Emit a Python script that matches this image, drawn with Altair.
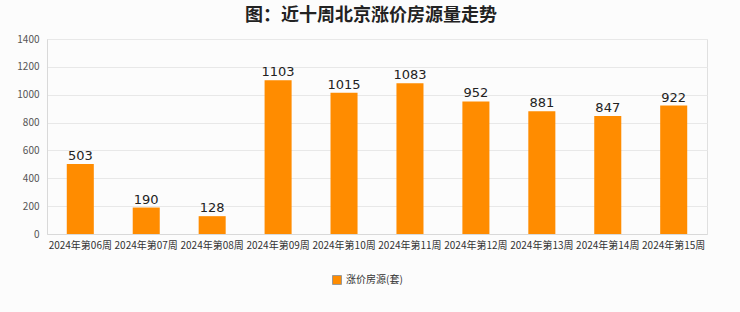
import altair as alt
import pandas as pd

weeks = ["2024年第06周", "2024年第07周", "2024年第08周", "2024年第09周", "2024年第10周",
         "2024年第11周", "2024年第12周", "2024年第13周", "2024年第14周", "2024年第15周"]
values = [503, 190, 128, 1103, 1015, 1083, 952, 881, 847, 922]
series = "涨价房源(套)"
y_ticks = [0, 200, 400, 600, 800, 1000, 1200, 1400]

df = pd.DataFrame({"week": weeks, "value": values, "series": [series] * len(weeks)})

FONT = "Noto Sans CJK SC"

base = alt.Chart(df).encode(
    x=alt.X("week:N", sort=weeks, title=None,
            scale=alt.Scale(paddingInner=0.59, paddingOuter=0.3),
            axis=alt.Axis(labelAngle=0, labelFontSize=10, labelColor="#333333",
                          labelFont=FONT, domainColor="#d9d9d9", ticks=False,
                          labelPadding=6, labelOverlap=False)),
    y=alt.Y("value:Q", title=None,
            scale=alt.Scale(domain=[0, 1400], nice=False),
            axis=alt.Axis(values=y_ticks, tickCount=8,
                          format="d", labelOverlap=False,
                          labelFontSize=10, labelColor="#555555", labelFont=FONT,
                          gridColor="#e8e8e8", domainColor="#d9d9d9", ticks=False,
                          labelPadding=8)),
)

bars = base.mark_bar(color="#FF8C00").encode(
    color=alt.Color("series:N", scale=alt.Scale(range=["#FF8C00"]),
                    legend=alt.Legend(title=None, orient="none", legendX=285, legendY=236,
                                      symbolType="square",
                                      symbolSize=80, labelFontSize=10, labelFont=FONT,
                                      labelColor="#333333",
                                      symbolStrokeColor="#999999", symbolStrokeWidth=1)),
)

labels = base.mark_text(dy=-8, fontSize=13, color="#222222", font="DejaVu Sans").encode(
    text="value:Q",
)

chart = (bars + labels).properties(
    width=660, height=195,
    background="#fcfcfc",
    padding={"left": 47, "top": 39, "right": 33, "bottom": 78},
    autosize=alt.AutoSizeParams(type="none"),
    title=alt.TitleParams("图：近十周北京涨价房源量走势", fontSize=18, font=FONT,
                          fontWeight="bold", color="#222222", offset=9, anchor="middle",
                          dx=-6),
).configure_view(stroke="#e0e0e0")

chart.save("out.html", embed_options={"renderer": "svg", "actions": False})
